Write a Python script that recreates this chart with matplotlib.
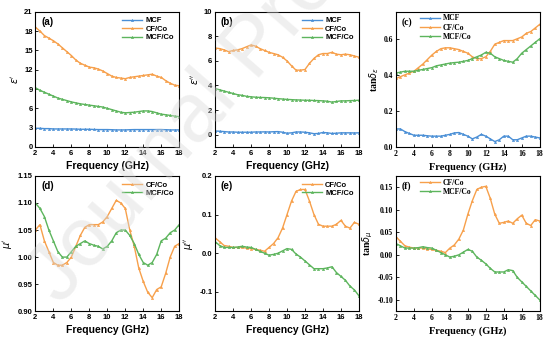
import numpy as np
import matplotlib
matplotlib.use("Agg")
import matplotlib.pyplot as plt

# frequency grid (GHz)
freq = np.arange(2, 18.01, 0.5)

# (a) real permittivity
eps1_mcf = [2.9, 2.9, 2.85, 2.85, 2.8, 2.8, 2.8, 2.8, 2.8, 2.78, 2.75, 2.75, 2.75, 2.72, 2.7, 2.7, 2.7,
            2.68, 2.65, 2.65, 2.65, 2.68, 2.7, 2.7, 2.7, 2.7, 2.7, 2.7, 2.7, 2.68, 2.65, 2.65, 2.65]
eps1_cfco = [18.6, 18.0, 17.3, 16.9, 16.5, 16.0, 15.4, 14.8, 14.2, 13.5, 13.0, 12.7, 12.4, 12.3, 12.1, 11.8, 11.4,
             11.0, 10.8, 10.7, 10.6, 10.8, 10.9, 11.0, 11.1, 11.2, 11.3, 11.0, 10.8, 10.3, 9.9, 9.6, 9.5]
eps1_mcfco = [9.2, 8.8, 8.5, 8.2, 7.9, 7.6, 7.4, 7.2, 7.0, 6.85, 6.7, 6.6, 6.5, 6.4, 6.3, 6.2, 6.0,
              5.8, 5.6, 5.4, 5.3, 5.35, 5.4, 5.5, 5.6, 5.6, 5.5, 5.3, 5.1, 5.0, 4.9, 4.8, 4.7]

# (b) imaginary permittivity
eps2_mcf = [0.3, 0.28, 0.25, 0.22, 0.22, 0.2, 0.2, 0.2, 0.2, 0.22, 0.22, 0.23, 0.22, 0.24, 0.25, 0.2, 0.12,
            0.15, 0.22, 0.22, 0.2, 0.15, 0.08, 0.1, 0.18, 0.15, 0.1, 0.12, 0.15, 0.15, 0.15, 0.14, 0.15]
eps2_cfco = [7.05, 7.0, 6.9, 6.75, 6.85, 6.9, 7.0, 7.15, 7.3, 7.2, 7.0, 6.85, 6.7, 6.6, 6.5, 6.3, 6.0,
             5.6, 5.25, 5.25, 5.3, 5.8, 6.2, 6.5, 6.6, 6.6, 6.7, 6.55, 6.5, 6.55, 6.5, 6.4, 6.3]
eps2_mcfco = [3.75, 3.65, 3.55, 3.45, 3.35, 3.25, 3.2, 3.12, 3.08, 3.05, 3.03, 3.02, 3.0, 2.97, 2.93, 2.9, 2.87,
              2.85, 2.83, 2.82, 2.8, 2.8, 2.78, 2.77, 2.75, 2.72, 2.65, 2.7, 2.75, 2.75, 2.77, 2.78, 2.8]

# (c) dielectric loss tangent
tane_mcf = [0.10, 0.10, 0.085, 0.075, 0.065, 0.065, 0.065, 0.062, 0.06, 0.06, 0.06, 0.065, 0.07, 0.078, 0.08, 0.07, 0.06,
            0.045, 0.055, 0.07, 0.06, 0.045, 0.03, 0.04, 0.06, 0.06, 0.04, 0.04, 0.05, 0.06, 0.06, 0.055, 0.05]
tane_cfco = [0.38, 0.39, 0.40, 0.41, 0.42, 0.44, 0.46, 0.485, 0.51, 0.53, 0.545, 0.55, 0.55, 0.545, 0.54, 0.53, 0.52,
             0.50, 0.49, 0.49, 0.50, 0.53, 0.57, 0.58, 0.59, 0.59, 0.59, 0.60, 0.61, 0.63, 0.64, 0.66, 0.68]
tane_mcfco = [0.41, 0.415, 0.42, 0.42, 0.42, 0.425, 0.43, 0.435, 0.44, 0.45, 0.455, 0.46, 0.465, 0.468, 0.47, 0.475, 0.48,
              0.49, 0.50, 0.51, 0.525, 0.52, 0.50, 0.49, 0.48, 0.475, 0.47, 0.49, 0.52, 0.54, 0.56, 0.58, 0.60]

# (d) real permeability
mu1_cfco = [1.05, 1.06, 1.03, 1.01, 0.99, 0.985, 0.985, 0.99, 1.00, 1.02, 1.04, 1.055, 1.06, 1.06, 1.06, 1.065, 1.075,
            1.09, 1.105, 1.10, 1.09, 1.05, 1.02, 0.98, 0.955, 0.935, 0.925, 0.94, 0.945, 0.97, 1.00, 1.02, 1.025]
mu1_mcfco = [1.10, 1.09, 1.075, 1.05, 1.03, 1.01, 1.00, 1.00, 1.01, 1.02, 1.025, 1.03, 1.025, 1.022, 1.02, 1.015, 1.02,
             1.03, 1.045, 1.05, 1.05, 1.04, 1.025, 1.005, 0.99, 0.985, 0.99, 1.005, 1.03, 1.035, 1.045, 1.05, 1.06]

# (e) imaginary permeability
mu2_cfco = [0.04, 0.03, 0.02, 0.018, 0.015, 0.015, 0.015, 0.013, 0.012, 0.01, 0.008, 0.005, 0.015, 0.025, 0.04, 0.065, 0.10,
            0.135, 0.16, 0.165, 0.165, 0.135, 0.10, 0.075, 0.07, 0.07, 0.07, 0.075, 0.085, 0.07, 0.065, 0.08, 0.075]
mu2_mcfco = [0.03, 0.02, 0.015, 0.015, 0.015, 0.016, 0.018, 0.016, 0.015, 0.01, 0.005, 0.0, -0.005, -0.003, 0.0, 0.006, 0.012,
             0.01, -0.002, -0.01, -0.02, -0.03, -0.04, -0.04, -0.04, -0.038, -0.035, -0.05, -0.06, -0.07, -0.085, -0.095, -0.11]

# (f) magnetic loss tangent
tanm_cfco = [0.04, 0.03, 0.02, 0.017, 0.015, 0.015, 0.015, 0.013, 0.012, 0.01, 0.008, 0.005, 0.015, 0.022, 0.035, 0.055, 0.09,
             0.12, 0.145, 0.15, 0.152, 0.125, 0.09, 0.07, 0.072, 0.075, 0.07, 0.08, 0.088, 0.07, 0.065, 0.078, 0.075]
tanm_mcfco = [0.025, 0.02, 0.015, 0.015, 0.015, 0.016, 0.018, 0.016, 0.015, 0.01, 0.005, 0.0, -0.005, -0.003, 0.0, 0.006, 0.012,
              0.008, -0.005, -0.012, -0.02, -0.03, -0.038, -0.038, -0.038, -0.033, -0.035, -0.05, -0.06, -0.07, -0.08, -0.09, -0.10]

c_mcf = '#4a8fd6'
c_cfco = '#f7a04b'
c_mcfco = '#5db55d'

fig = plt.figure(figsize=(5.53, 3.45), dpi=100)

lefts = [0.064, 0.389, 0.716]
w = 0.260
bottoms = [0.574, 0.098]
h = 0.392

sans = 'Liberation Sans'
serif = 'Liberation Serif'


def panel(col, row, series, ylim, yticks, ylabel, tag, font, yfmt, leg_loc, leg_anchor):
    ax = fig.add_axes([lefts[col], bottoms[row], w, h])
    for y, c, lab in series:
        ax.plot(freq, y, color=c, lw=1.0, marker='^', ms=1.6, mew=0.4, label=lab)
    ax.set_xlim(2, 18)
    ax.set_ylim(*ylim)
    ax.set_xticks(range(2, 19, 2))
    ax.set_yticks(yticks)
    ax.set_yticklabels([yfmt.format(v) for v in yticks])
    ax.tick_params(direction='in', length=2.5, width=0.6, labelsize=5.5, pad=2)
    for lab in ax.get_xticklabels() + ax.get_yticklabels():
        lab.set_family(font)
        lab.set_fontweight('bold')
    for s in ax.spines.values():
        s.set_linewidth(0.8)
    ax.set_xlabel('Frequency (GHz)', fontsize=7.5, fontweight='bold', family=font, labelpad=3)
    ax.set_ylabel(ylabel, fontsize=7, fontweight='bold', family=font, labelpad=2)
    ax.text(0.04, 0.96, tag, transform=ax.transAxes, ha='left', va='top',
            fontsize=7, fontweight='bold', family=font)
    ax.legend(loc=leg_loc, bbox_to_anchor=leg_anchor, frameon=False,
              prop={'family': font, 'weight': 'bold', 'size': 5.5},
              handlelength=2.6, handletextpad=0.4, labelspacing=0.15, borderaxespad=0.3)
    return ax


panel(0, 0, [(eps1_mcf, c_mcf, 'MCF'), (eps1_cfco, c_cfco, 'CF/Co'), (eps1_mcfco, c_mcfco, 'MCF/Co')],
      (0, 21), list(range(0, 22, 3)), r"$\varepsilon'$", '(a)', sans, '{:d}', 'upper right', (1.0, 1.0))
panel(1, 0, [(eps2_mcf, c_mcf, 'MCF'), (eps2_cfco, c_cfco, 'CF/Co'), (eps2_mcfco, c_mcfco, 'MCF/Co')],
      (-1, 10), list(range(0, 11, 2)), r"$\varepsilon''$", '(b)', sans, '{:d}', 'upper right', (1.0, 1.0))
panel(2, 0, [(tane_mcf, c_mcf, 'MCF'), (tane_cfco, c_cfco, 'CF/Co'), (tane_mcfco, c_mcfco, 'MCF/Co')],
      (0, 0.75), [0.0, 0.2, 0.4, 0.6], r"tan$\delta_\varepsilon$", '(c)', serif, '{:.1f}', 'upper left', (0.13, 1.02))
panel(0, 1, [(mu1_cfco, c_cfco, 'CF/Co'), (mu1_mcfco, c_mcfco, 'MCF/Co')],
      (0.90, 1.15), [0.90, 0.95, 1.00, 1.05, 1.10, 1.15], r"$\mu'$", '(d)', sans, '{:.2f}', 'upper right', (1.0, 1.0))
panel(1, 1, [(mu2_cfco, c_cfco, 'CF/Co'), (mu2_mcfco, c_mcfco, 'MCF/Co')],
      (-0.15, 0.2), [-0.1, 0.0, 0.1, 0.2], r"$\mu''$", '(e)', sans, '{:.1f}', 'upper right', (1.0, 1.0))
panel(2, 1, [(tanm_cfco, c_cfco, 'CF/Co'), (tanm_mcfco, c_mcfco, 'MCF/Co')],
      (-0.125, 0.175), [-0.10, -0.05, 0.0, 0.05, 0.10, 0.15], r"tan$\delta_\mu$", '(f)', serif, '{:.2f}',
      'upper left', (0.13, 1.02))

# faint diagonal watermark
fig.text(0.46, 0.86, 'Journal Pre-proof', fontsize=60, color='#d8d8d8', alpha=0.4,
         rotation=49, ha='center', va='center', family=sans, zorder=10)

fig.savefig('out.png', dpi=100)
